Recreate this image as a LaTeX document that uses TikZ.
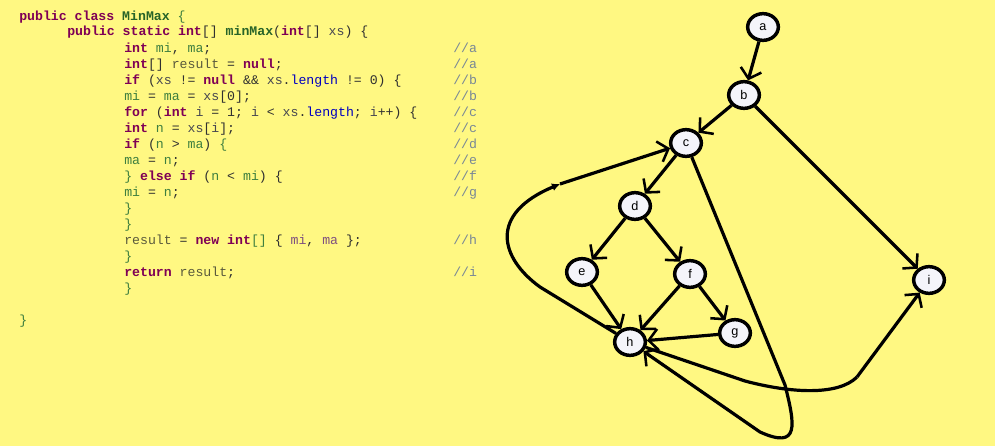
\documentclass[tikz,border=0pt]{standalone}
\usepackage{fontspec}
\setmonofont{Liberation Mono}
\setsansfont{Liberation Sans}
\usepackage{tikz}
\usetikzlibrary{shapes.geometric,arrows.meta,positioning}

\definecolor{bgyellow}{RGB}{255,248,130}
\definecolor{nodefill}{RGB}{244,244,250}
\definecolor{codegray}{RGB}{48,48,48}
\definecolor{kwcol}{RGB}{127,0,85}
\definecolor{loccol}{RGB}{63,127,63}
\definecolor{parcol}{RGB}{70,70,80}
\definecolor{rescol}{RGB}{90,90,60}
\definecolor{fldcol}{RGB}{0,0,192}
\definecolor{namecol}{RGB}{40,100,40}
\definecolor{arrcol}{RGB}{127,80,127}
\definecolor{cmtcol}{RGB}{120,135,150}

\newcommand{\jkw}[1]{\textcolor{kwcol}{\textbf{#1}}}
\newcommand{\jloc}[1]{\textcolor{loccol}{#1}}
\newcommand{\jpar}[1]{\textcolor{parcol}{#1}}
\newcommand{\jres}[1]{\textcolor{rescol}{#1}}
\newcommand{\jfld}[1]{\textcolor{fldcol}{#1}}
\newcommand{\jname}[1]{\textcolor{namecol}{\textbf{#1}}}
\newcommand{\jarr}[1]{\textcolor{arrcol}{#1}}
\newcommand{\jbr}[1]{\textcolor{loccol}{#1}}

\begin{document}
\begin{tikzpicture}[x=0.75pt,y=-0.75pt,
  vtx/.style={ellipse,draw,line width=2.6pt,fill=nodefill,minimum width=23pt,minimum height=20pt,inner sep=0pt,font=\sffamily\fontsize{9.5}{10}\selectfont},
  flow/.style={draw,line width=2.4pt,-{Straight Barb[length=7pt,width=16pt,line width=1.9pt]}},
  midtip/.style={draw,line width=2.4pt,-{Latex[length=6pt,width=6pt]}},
  codeline/.style={anchor=base west,inner sep=0pt,text=codegray,font=\ttfamily\fontsize{9.9}{12}\selectfont}]
\fill[bgyellow] (0,0) rectangle (995,446);
\useasboundingbox (0,0) rectangle (995,446);

% source code
\node[codeline] (l1) at (19,20) {\jkw{public class} \jname{MinMax} \jbr{\{}};
\node[codeline] (l2) at (67,36) {\jkw{public static int}[] \jname{minMax}(\jkw{int}[] \jpar{xs}) \{};
\node[codeline] (l3) at (124,52) {\jkw{int} \jloc{mi}, \jloc{ma};};
\node[codeline] (l4) at (124,68) {\jkw{int}[] \jres{result} = \jkw{null};};
\node[codeline] (l5) at (124,84) {\jkw{if} (\jpar{xs} != \jkw{null} \&\& \jpar{xs}.\jfld{length} != 0) \{};
\node[codeline] (l6) at (124,100) {\jloc{mi} = \jloc{ma} = \jpar{xs}[0];};
\node[codeline] (l7) at (124,116) {\jkw{for} (\jkw{int} \jpar{i} = 1; \jpar{i} < \jpar{xs}.\jfld{length}; \jpar{i}++) \{};
\node[codeline] (l8) at (124,132) {\jkw{int} \jloc{n} = \jpar{xs}[\jpar{i}];};
\node[codeline] (l9) at (124,148) {\jkw{if} (\jloc{n} > \jloc{ma}) \jbr{\{}};
\node[codeline] (l10) at (124,164) {\jloc{ma} = \jloc{n};};
\node[codeline] (l11) at (124,180) {\jbr{\}} \jkw{else if} (\jloc{n} < \jloc{mi}) \{};
\node[codeline] (l12) at (124,196) {\jloc{mi} = \jloc{n};};
\node[codeline] (l13) at (124,212) {\jbr{\}}};
\node[codeline] (l14) at (124,228) {\jbr{\}}};
\node[codeline] (l15) at (124,244) {\jres{result} = \jkw{new int}\jbr{[]} \{ \jarr{mi}, \jarr{ma} \};};
\node[codeline] (l16) at (124,260) {\jbr{\}}};
\node[codeline] (l17) at (124,276) {\jkw{return} \jres{result};};
\node[codeline] (l18) at (124,292) {\jbr{\}}};
\node[codeline] (l20) at (19,324) {\jbr{\}}};
\foreach \ln/\lbl in {3/a,4/a,5/b,6/b,7/c,8/c,9/d,10/e,11/f,12/g,15/h,17/i}
  \node[codeline,text=cmtcol] (cm\ln) at (453,{20+16*(\ln-1)}) {//\lbl};

% flow graph
\node[vtx] (a) at (763,27) {a};
\node[vtx] (b) at (744,95) {b};
\node[vtx] (c) at (686,143) {c};
\node[vtx] (d) at (635,206) {d};
\node[vtx] (e) at (582,272) {e};
\node[vtx] (f) at (690,274) {f};
\node[vtx] (g) at (735,333) {g};
\node[vtx] (h) at (630,342) {h};
\node[vtx] (i) at (929,280) {i};

\draw[flow] (a) -- (b);
\draw[flow] (b) -- (c);
\draw[flow] (b) -- (i);
\draw[flow] (c) -- (d);
\draw[flow] (d) -- (e);
\draw[flow] (d) -- (f);
\draw[flow] (e) -- (h);
\draw[flow] (f) -- (h);
\draw[flow] (f) -- (g);
\draw[flow] (g) -- (h);

% loop back to c
\coordinate (backA) at (540,287);
\coordinate (backM) at (560,184);
\draw[midtip] (h) -- (backA) .. controls (500,258) and (488,214) .. (backM);
\draw[flow] (backM) -- (c);

% c falls through to h
\coordinate (fallA) at (785,385);
\coordinate (fallB) at (760,432);
\draw[flow] (c) -- (fallA) .. controls (795,425) and (800,450) .. (fallB) -- (h);

% h to i
\coordinate (exitA) at (745,381);
\coordinate (exitM) at (857,377);
\draw[line width=2.4pt] (h) -- (exitA) .. controls (790,393) and (838,396) .. (exitM);
\draw[flow] (exitM) -- (i);
\end{tikzpicture}
\end{document}
